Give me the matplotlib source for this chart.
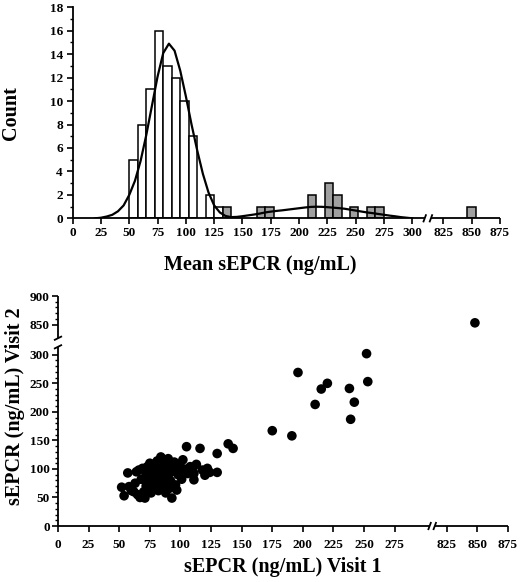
import numpy as np
import matplotlib
matplotlib.use('Agg')
import matplotlib.pyplot as plt

plt.rcParams['font.family'] = ['Liberation Serif', 'DejaVu Serif']
plt.rcParams['font.weight'] = 'bold'

# --- histogram of mean sEPCR (bins 7.5 ng/mL wide) ---
bin_width = 7.5
white_left = [50, 57.5, 65, 72.5, 80, 87.5, 95, 102.5, 117.5, 125]
white_count = [5, 8, 11, 16, 13, 12, 10, 7, 2, 1]
gray_left = [132.5, 162.5, 170, 207.5, 222.5, 230, 245, 260, 267.5, 846.25]
gray_count = [1, 1, 1, 2, 3, 2, 1, 1, 1, 1]

# fitted curve
curve_x = [20, 25, 30, 35, 40, 45, 50, 55, 60, 65, 70, 75, 80, 85, 90, 95, 100,
           105, 110, 115, 120, 125, 130, 135, 140, 145, 150, 155, 160, 165, 170,
           175, 180, 185, 190, 195, 200, 205, 210, 215, 220, 225, 230, 235, 240,
           245, 250, 255, 260, 265, 270, 275, 280, 285, 290, 295, 300]
curve_y = [0.0, 0.05, 0.15, 0.3, 0.6, 1.1, 2.0, 3.2, 4.9, 7.1, 9.6, 12.1, 14.1,
           14.9, 14.3, 12.6, 10.4, 8.0, 5.8, 3.8, 2.2, 1.1, 0.5, 0.2, 0.1, 0.12,
           0.18, 0.25, 0.32, 0.4, 0.5, 0.57, 0.63, 0.68, 0.74, 0.8, 0.86, 0.92,
           0.97, 0.99, 0.98, 0.95, 0.91, 0.87, 0.82, 0.74, 0.66, 0.58, 0.5, 0.44,
           0.37, 0.3, 0.23, 0.17, 0.1, 0.05, 0.0]

# --- scatter visit 1 vs visit 2 ---
visit1 = [52, 54, 57, 58, 60, 62, 63, 64, 65, 66, 67, 68, 69, 70, 70, 71, 72, 72,
          73, 74, 75, 75, 76, 76, 77, 78, 78, 79, 80, 80, 81, 82, 82, 83, 84, 84,
          85, 86, 86, 87, 88, 88, 89, 90, 90, 91, 92, 92, 93, 94, 95, 96, 96, 97,
          98, 99, 100, 101, 102, 103, 105, 106, 108, 110, 111, 111, 113, 116, 118,
          120, 122, 124, 130, 130, 139, 143,
          175, 191, 196, 210, 215, 220, 238, 239, 242, 252, 253, 848]
visit2 = [68, 53, 93, 69, 62, 60, 75, 95, 55, 98, 50, 82, 101, 60, 81, 49, 70, 92,
          104, 65, 88, 110, 58, 75, 96, 108, 66, 84, 72, 100, 114, 62, 90, 78, 104,
          121, 68, 95, 84, 112, 74, 58, 100, 88, 118, 66, 106, 79, 49, 96, 112, 101,
          72, 63, 90, 108, 96, 82, 116, 100, 139, 92, 104, 97, 81, 92, 108, 136, 98,
          89, 101, 94, 94, 127, 144, 136,
          167, 158, 269, 213, 240, 250, 241, 187, 217, 302, 253, 853]


def broken(lo, hi, hi_t):
    # identity below lo, squeezed between lo and hi, shifted above hi
    k = (hi_t - lo) / (hi - lo)

    def fwd(v):
        v = np.asarray(v, dtype=float)
        return np.where(v <= lo, v, np.where(v >= hi, v - hi + hi_t, lo + (v - lo) * k))

    def inv(t):
        t = np.asarray(t, dtype=float)
        return np.where(t <= lo, t, np.where(t >= hi_t, t - hi_t + hi, lo + (t - lo) / k))
    return fwd, inv


def hline_gap(ax, g0, g1, h_px):
    # axis line along the bottom with a // break between fractions g0 and g1
    kw = dict(transform=ax.transAxes, clip_on=False, color='black', lw=1.3, solid_capstyle='butt')
    ax.plot([0, g0], [0, 0], **kw)
    ax.plot([g1, 1], [0, 0], **kw)
    bb = ax.get_window_extent()
    dx = 1.5 / bb.width
    dy = h_px / bb.height
    for g in (g0, g1):
        ax.plot([g - dx, g + dx], [-dy, dy], **kw)


def vline_gap(ax, g0, g1, w_px):
    kw = dict(transform=ax.transAxes, clip_on=False, color='black', lw=1.3, solid_capstyle='butt')
    ax.plot([0, 0], [0, g0], **kw)
    ax.plot([0, 0], [g1, 1], **kw)
    bb = ax.get_window_extent()
    dx = w_px / bb.width
    dy = 2.0 / bb.height
    for g in (g0, g1):
        ax.plot([-dx, dx], [g - dy, g + dy], **kw)


fig = plt.figure(figsize=(5.2, 5.82), dpi=100)

# ---------------- top: histogram ----------------
ax1 = fig.add_axes([0.1398, 0.6249, 0.8217, 0.3625])
fx1, ix1 = broken(310, 815, 317.5)
ax1.set_xscale('function', functions=(fx1, ix1))
ax1.bar(white_left, white_count, width=bin_width, align='edge', color='white',
        edgecolor='black', linewidth=1.1, zorder=2)
ax1.bar(gray_left, gray_count, width=bin_width, align='edge', color='#a0a0a0',
        edgecolor='black', linewidth=1.1, zorder=2)
ax1.plot(curve_x, curve_y, color='black', lw=1.6, zorder=3)
ax1.set_xlim(0, 875)
ax1.set_ylim(0, 18)
top_xticks = [0, 25, 50, 75, 100, 125, 150, 175, 200, 225, 250, 275, 300, 825, 850, 875]
ax1.set_xticks(top_xticks, [str(t) for t in top_xticks])
ax1.set_yticks(range(0, 19, 2))
ax1.set_yticks(range(1, 18, 2), minor=True)
ax1.tick_params(axis='x', direction='out', length=4, width=1.2, pad=2, labelsize=9.5)
ax1.tick_params(axis='y', which='major', direction='out', length=4, width=1.2, pad=3, labelsize=9.5)
ax1.tick_params(axis='y', which='minor', direction='out', length=2, width=1)
ax1.tick_params(axis='x', which='minor', length=0)
for s in ['top', 'right', 'bottom']:
    ax1.spines[s].set_visible(False)
ax1.spines['left'].set_linewidth(1.3)
hline_gap(ax1, 311 / 377.5, 316.5 / 377.5, 4)

fig.text(0.022, 1 - 113 / 582, 'Count', rotation=90, ha='center', va='center',
         fontsize=14.5, fontweight='bold')
fig.text(260 / 520, 1 - 265 / 582, 'Mean sEPCR (ng/mL)', ha='center', va='center',
         fontsize=14.5, fontweight='bold')

# ---------------- bottom: scatter ----------------
ax2 = fig.add_axes([0.1115, 0.0962, 0.8654, 0.3952])
fx2, ix2 = broken(305, 815, 307.5)
fy2, iy2 = broken(310, 840, 343)
ax2.set_xscale('function', functions=(fx2, ix2))
ax2.set_yscale('function', functions=(fy2, iy2))
ax2.scatter(visit1, visit2, s=48, color='black', edgecolors='none', zorder=3, clip_on=False)
ax2.set_xlim(0, 875)
ax2.set_ylim(0, 900)
bot_xticks = [0, 25, 50, 75, 100, 125, 150, 175, 200, 225, 250, 275, 825, 850, 875]
ax2.set_xticks(bot_xticks, [str(t) for t in bot_xticks])
bot_yticks = [0, 50, 100, 150, 200, 250, 300, 850, 900]
ax2.set_yticks(bot_yticks, [str(t) for t in bot_yticks])
minor_y = [v for v in range(10, 310, 10) if v % 50] + [860, 870, 880, 890]
ax2.set_yticks(minor_y, minor=True)
ax2.set_xticks([], minor=True)
ax2.tick_params(axis='x', direction='out', length=4, width=1.2, pad=5, labelsize=9.5)
ax2.tick_params(axis='y', which='major', direction='out', length=4, width=1.2, pad=2, labelsize=9.5)
ax2.tick_params(axis='y', which='minor', direction='out', length=2, width=1)
for s in ['top', 'right', 'bottom', 'left']:
    ax2.spines[s].set_visible(False)
hline_gap(ax2, 303.5 / 367.5, 307.7 / 367.5, 4)
vline_gap(ax2, 314 / 403, 329 / 403, 4)

fig.text(15 / 520, 1 - 406 / 582, 'sEPCR (ng/mL) Visit 2', rotation=90, ha='center',
         va='center', fontsize=14.5, fontweight='bold')
fig.text(283 / 520, 1 - 567 / 582, 'sEPCR (ng/mL) Visit 1', ha='center', va='center',
         fontsize=14.5, fontweight='bold')

fig.savefig('out.png', dpi=100, facecolor='white')
